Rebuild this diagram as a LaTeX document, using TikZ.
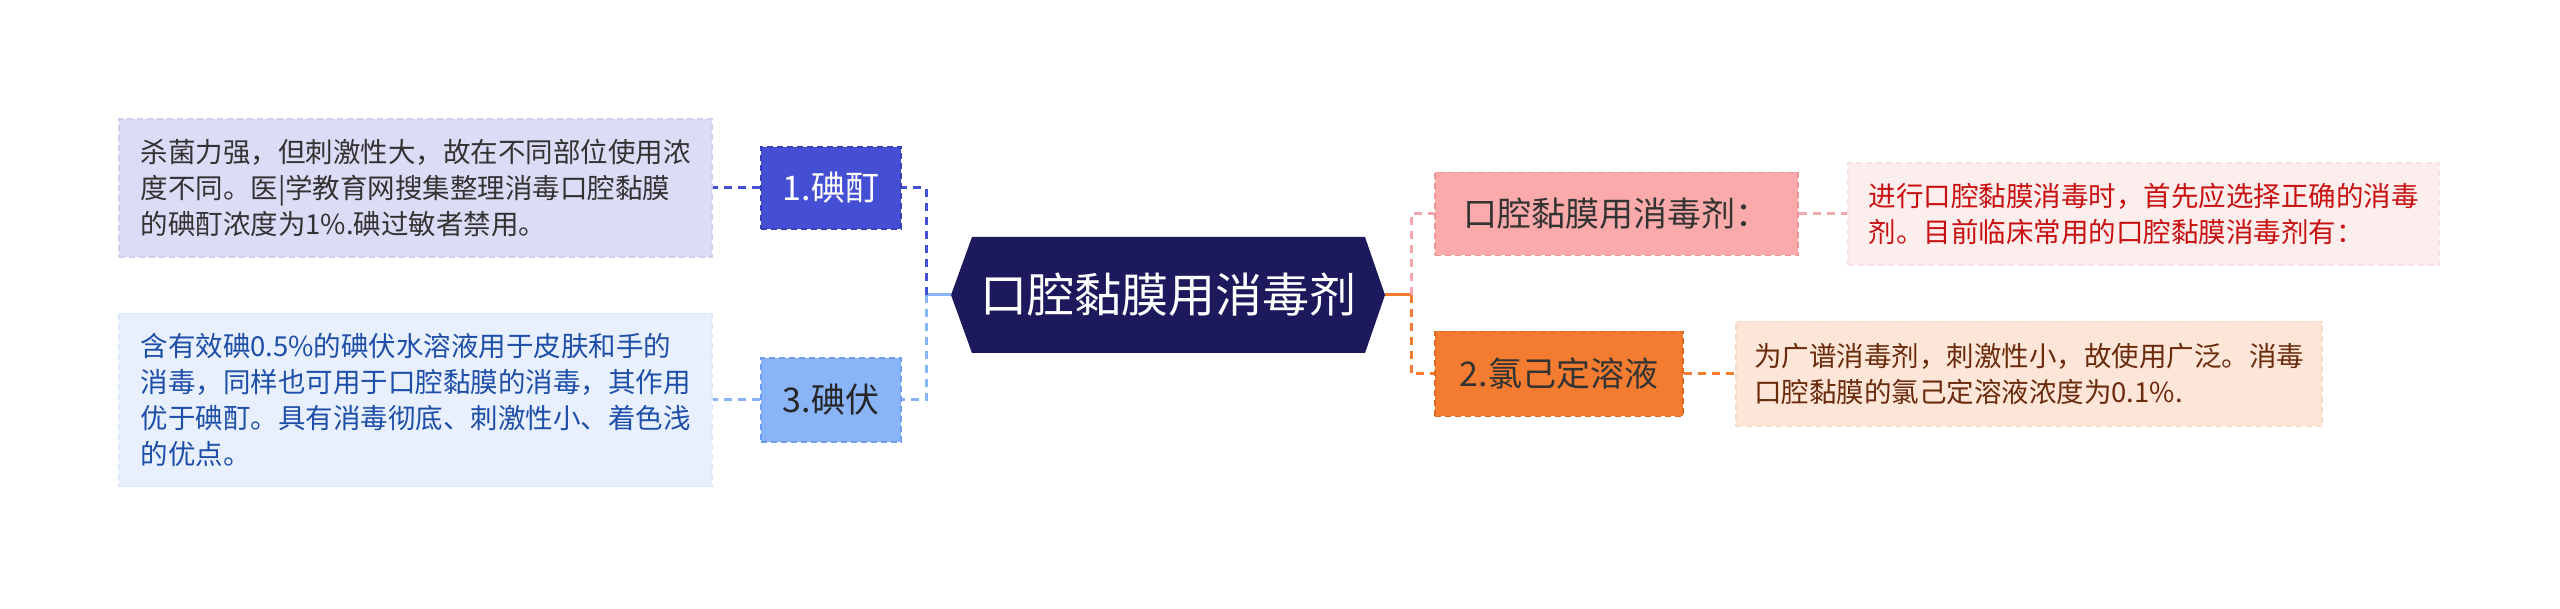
\documentclass[tikz,border=0pt]{standalone}
\usepackage{fontspec}
\setmainfont{Noto Sans CJK SC}
\definecolor{navy}{HTML}{1C1A5C}
\definecolor{cA}{HTML}{454FD3}
\definecolor{cAb}{HTML}{3840B5}
\definecolor{cAd}{HTML}{DCDCF6}
\definecolor{cAdb}{HTML}{CDCDF0}
\definecolor{cB}{HTML}{8AB4F8}
\definecolor{cBb}{HTML}{6F9CEE}
\definecolor{cBd}{HTML}{E8F0FD}
\definecolor{cBdb}{HTML}{DCE7FA}
\definecolor{cBt}{HTML}{1E4FA8}
\definecolor{cP}{HTML}{FAAAAA}
\definecolor{cPb}{HTML}{EE9494}
\definecolor{cPl}{HTML}{F2A6AE}
\definecolor{cPd}{HTML}{FDEEEE}
\definecolor{cPdb}{HTML}{FAE0E0}
\definecolor{cPt}{HTML}{C81010}
\definecolor{cO}{HTML}{F47C30}
\definecolor{cOb}{HTML}{E06820}
\definecolor{cOd}{HTML}{FDE6D7}
\definecolor{cOdb}{HTML}{F9D8C2}
\definecolor{cOt}{HTML}{6A2A0C}
\begin{document}
\begin{tikzpicture}[x=1pt,y=-1pt,
  desc/.style={rectangle, draw, dash pattern=on 6pt off 4pt, line width=1.5pt, align=left, inner sep=0pt, font=\fontsize{27.5}{36}\selectfont},
  topic/.style={rectangle, draw, dash pattern=on 6pt off 4pt, line width=1.5pt, inner sep=0pt, font=\fontsize{34}{40}\selectfont},
  link/.style={line width=3pt, dash pattern=on 8pt off 6pt},
  stub/.style={line width=3pt},
]
\useasboundingbox (0,0) rectangle (2560,609);

% central hexagon
\fill[navy] (951,295) -- (972,237) -- (1365,237) -- (1385,295) -- (1365,353) -- (972,353) -- cycle;
\node[text=white, font=\fontsize{47}{52}\selectfont] (c) at (1168,295) {口腔黏膜用消毒剂};
\coordinate (cl) at (951,295);
\coordinate (cr) at (1385,295);
\coordinate (lj) at (926,295);
\coordinate (rj) at (1411,295);

% left topics
\node[topic, fill=cA, draw=cAb, text=white, minimum width=140, minimum height=82] (n1) at (831,188) {1.碘酊};
\node[topic, fill=cB, draw=cBb, text=black!85, minimum width=140, minimum height=84] (n3) at (831,400) {3.碘伏};
\node[desc, fill=cAd, draw=cAdb, text=black!80, minimum width=593, minimum height=138] (d1) at (415.5,188)
 {杀菌力强，但刺激性大，故在不同部位使用浓\\度不同。医|学教育网搜集整理消毒口腔黏膜\\的碘酊浓度为1\%.碘过敏者禁用。};
\node[desc, fill=cBd, draw=cBdb, text=cBt, minimum width=593, minimum height=173] (d3) at (415.5,400)
 {含有效碘0.5\%的碘伏水溶液用于皮肤和手的\\消毒，同样也可用于口腔黏膜的消毒，其作用\\优于碘酊。具有消毒彻底、刺激性小、着色浅\\的优点。};

% right topics
\node[topic, fill=cP, draw=cPb, text=black!80, minimum width=363, minimum height=83] (r1) at (1616.5,214) {口腔黏膜用消毒剂：};
\node[topic, fill=cO, draw=cOb, text=black!80, minimum width=248, minimum height=85] (r2) at (1559,374) {2.氯己定溶液};
\node[desc, fill=cPd, draw=cPdb, text=cPt, minimum width=591, minimum height=102] (rd1) at (2143.5,214)
 {进行口腔黏膜消毒时，首先应选择正确的消毒\\剂。目前临床常用的口腔黏膜消毒剂有：};
\node[desc, fill=cOd, draw=cOdb, text=cOt, minimum width=586, minimum height=105] (rd2) at (2029,374)
 {为广谱消毒剂，刺激性小，故使用广泛。消毒\\口腔黏膜的氯己定溶液浓度为0.1\%.};

% connectors left
\draw[stub, cB] (cl) -- (lj);
\draw[link, cA] (lj) |- (n1.east);
\draw[link, cB] (lj) |- (n3.east);
\draw[link, cA] (n1.west) -- (d1.east);
\draw[link, cB] (n3.west) -- (d3.east);

% connectors right
\draw[stub, cO] (cr) -- (rj);
\draw[link, cPl] (rj) |- (r1.west);
\draw[link, cO] (rj) |- (r2.west);
\draw[link, cPl] (r1.east) -- (rd1.west);
\draw[link, cO] (r2.east) -- (rd2.west);
\end{tikzpicture}
\end{document}
